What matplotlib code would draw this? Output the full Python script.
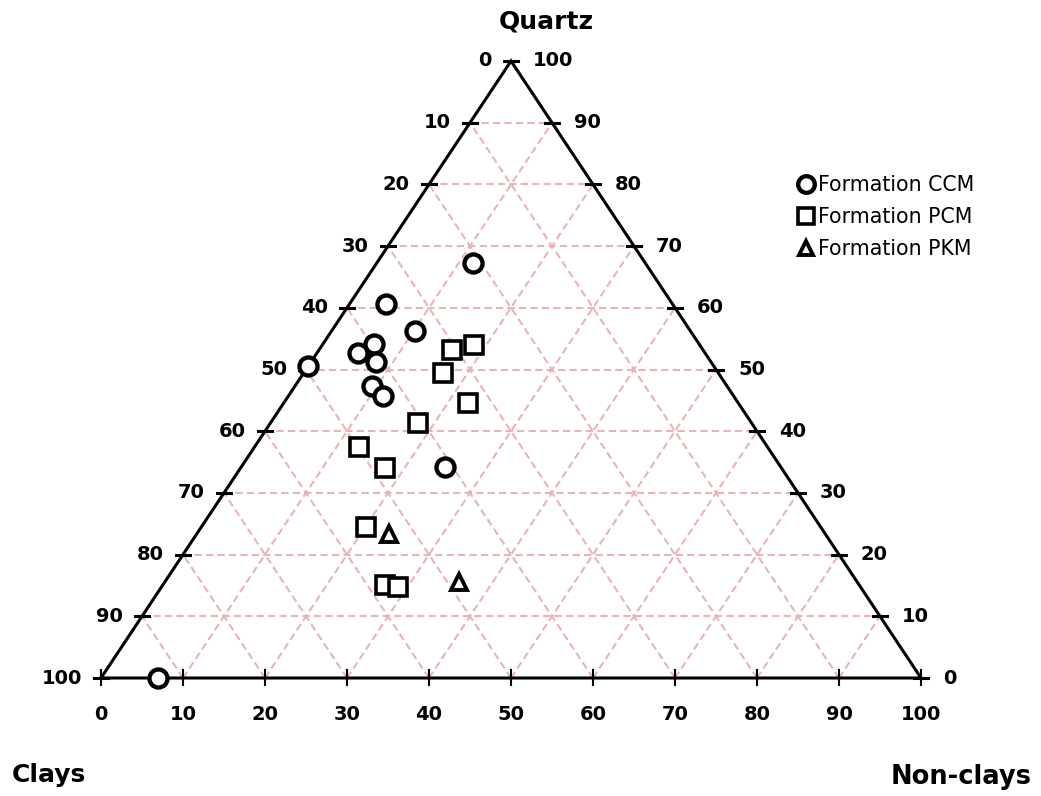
import numpy as np
import matplotlib
matplotlib.use("Agg")
import matplotlib.pyplot as plt

# ternary compositions in percent: quartz (top), clays (bottom left), non-clays (bottom right)
ccm_quartz = [67.3, 60.6, 56.3, 54.1, 52.6, 51.2, 50.5, 47.4, 45.7, 34.2, 0.0]
ccm_clays = [21.0, 34.9, 33.6, 39.6, 42.3, 40.9, 49.5, 43.3, 42.7, 41.0, 93.1]
ccm_nonclays = [11.7, 4.5, 10.1, 6.3, 5.1, 7.9, 0.0, 9.3, 11.6, 24.8, 6.9]

pcm_quartz = [53.2, 54.0, 49.4, 44.5, 41.3, 37.4, 34.1, 24.5, 15.1, 14.7]
pcm_clays = [30.6, 27.5, 33.6, 33.0, 40.7, 49.8, 48.3, 55.4, 57.8, 56.4]
pcm_nonclays = [16.2, 18.5, 17.0, 22.5, 18.0, 12.8, 17.6, 20.1, 27.1, 28.9]

pkm_quartz = [23.3, 15.6]
pkm_clays = [53.2, 48.5]
pkm_nonclays = [23.5, 35.9]

ticks = [0, 10, 20, 30, 40, 50, 60, 70, 80, 90, 100]
series_names = ["Formation CCM", "Formation PCM", "Formation PKM"]

GRID = "#e8b4b4"
FS = 14


def to_xy(q, c, n):
    q = np.asarray(q, float)
    n = np.asarray(n, float)
    return n + q / 2.0, q


W, H = 1041, 796
fig = plt.figure(figsize=(W / 100, H / 100), dpi=100)
# triangle base runs from px 101 to 921 at py 678, apex at py 61
ax = fig.add_axes([101 / W, (H - 678) / H, 820 / W, 617 / H])
ax.set_xlim(0, 100)
ax.set_ylim(0, 100)
ax.axis("off")

px = 100 / 820   # data units per pixel, x
py = 100 / 617   # data units per pixel, y

# grid
for t in ticks[1:-1]:
    gkw = dict(color=GRID, lw=1.5, ls=(0, (3.5, 2)), zorder=1)
    ax.plot([t / 2, 100 - t / 2], [t, t], **gkw)                 # constant quartz
    ax.plot([t, t + (100 - t) / 2], [0, 100 - t], **gkw)          # constant non-clays
    ax.plot([100 - t, (100 - t) / 2], [0, 100 - t], **gkw)        # constant clays

# outline
ax.plot([0, 100, 50, 0], [0, 0, 100, 0], color="black", lw=2.2, zorder=2,
        solid_joinstyle="miter", clip_on=False)

# ticks and labels
for t in ticks:
    # bottom: non-clays
    ax.plot([t, t], [-7 * py, 8 * py], color="black", lw=1.5, clip_on=False, zorder=2)
    ax.text(t, -36 * py, str(t), ha="center", va="center", fontsize=FS,
            fontweight="bold")
    # left: clays
    lx, ly = (100 - t) / 2, 100 - t
    ax.plot([lx - 7 * px, lx + 7 * px], [ly, ly], color="black", lw=2.2,
            clip_on=False, zorder=2)
    ax.text(lx - 19 * px, ly, str(t), ha="right", va="center", fontsize=FS,
            fontweight="bold")
    # right: quartz
    rx, ry = 100 - t / 2, t
    ax.plot([rx - 7 * px, rx + 7 * px], [ry, ry], color="black", lw=2.2,
            clip_on=False, zorder=2)
    ax.text(rx + 22 * px, ry, str(t), ha="left", va="center", fontsize=FS,
            fontweight="bold")

# vertex titles
ax.text(50 + 35 * px, 100 + 39 * py, "Quartz", ha="center", va="center",
        fontsize=18, fontweight="bold")
fig.text(12 / W, 1 - 775 / H, "Clays", ha="left", va="center", fontsize=18,
         fontweight="bold")
fig.text(1032 / W, 1 - 777 / H, "Non-clays", ha="right", va="center", fontsize=18.5,
         fontweight="bold")

# data
mk = dict(mfc="white", mec="black", ls="none", zorder=3, clip_on=False)
x, y = to_xy(ccm_quartz, ccm_clays, ccm_nonclays)
ax.plot(x, y, marker="o", ms=13, mew=3.1, label=series_names[0], **mk)
x, y = to_xy(pcm_quartz, pcm_clays, pcm_nonclays)
ax.plot(x, y, marker="s", ms=12.5, mew=2.6, label=series_names[1], **mk)
x, y = to_xy(pkm_quartz, pkm_clays, pkm_nonclays)
ax.plot(x, y, marker="^", ms=11, mew=2.8, label=series_names[2], **mk)

leg = ax.legend(loc="upper left", bbox_to_anchor=(788 / W, 1 - 165 / H),
                bbox_transform=fig.transFigure, frameon=False, fontsize=14.8,
                handlelength=0.75, handletextpad=0.2, labelspacing=0.58,
                borderpad=0, markerscale=0.92)

fig.savefig("out.png", dpi=100, facecolor="white")
